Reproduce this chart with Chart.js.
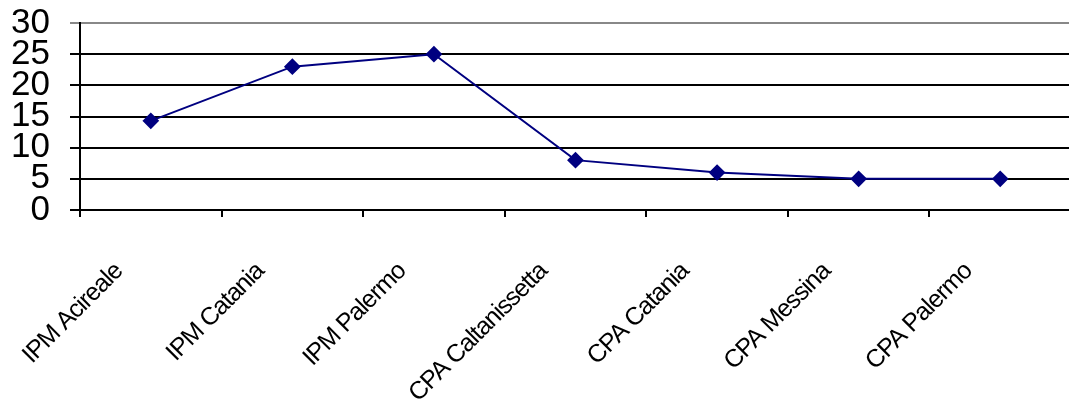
<!DOCTYPE html>
<html>
<head>
<meta charset="utf-8">
<script src="https://cdn.jsdelivr.net/npm/chart.js@4"></script>
<style>
  html, body { margin: 0; padding: 0; background: #fff; overflow: hidden; }
  #wrap { width: 1080px; height: 411px; }
</style>
</head>
<body>
<div id="wrap"><canvas id="myChart" width="1080" height="411"></canvas></div>
<script>
const categories = [
  "IPM Acireale",
  "IPM Catania",
  "IPM Palermo",
  "CPA Caltanissetta",
  "CPA Catania",
  "CPA Messina",
  "CPA Palermo",
];
const values = [14.3, 23, 25, 8, 6, 5, 5];
const yMin = 0;
const yMax = 30;
const yStep = 5;

// tighter letters for the slanted category names, like the original
function tightLabels(s) {
  if (s._tight) return;
  s._tight = true;
  const orig = s.drawLabels;
  s.drawLabels = function (area) {
    const c = this.ctx;
    c.save();
    c.letterSpacing = "-1px";
    orig.call(this, area);
    c.restore();
  };
}

const chart = new Chart(document.getElementById("myChart"), {
  type: "line",
  data: {
    labels: categories,
    datasets: [
      {
        data: values,
        borderColor: "#000080",
        backgroundColor: "#000080",
        borderWidth: 2,
        pointStyle: "rectRot",
        pointRadius: 7,
        pointHoverRadius: 7,
        tension: 0,
        fill: false,
      },
    ],
  },
  options: {
    responsive: false,
    animation: false,
    layout: { padding: { top: 23, right: 3, left: 0, bottom: 0 } },
    plugins: {
      legend: { display: false },
      tooltip: { enabled: false },
    },
    scales: {
      x: {
        offset: true,
        grid: {
          offset: true,
          drawOnChartArea: false,
          color: "#000",
          lineWidth: 2,
          tickLength: 7,
        },
        border: { color: "#000", width: 2 },
        ticks: {
          color: "#000",
          font: { family: "Liberation Sans, Arial", size: 25 },
          minRotation: 45,
          maxRotation: 45,
          autoSkip: false,
          labelOffset: -32,
          padding: 40,
        },
        afterFit: (s) => { s.height = 201; tightLabels(s); },
      },
      y: {
        min: yMin,
        max: yMax,
        grid: {
          color: (ctx) => (ctx.tick && ctx.tick.value === yMax ? "#888" : "#000"),
          lineWidth: 2,
          tickLength: 10,
        },
        border: { color: "#000", width: 2 },
        ticks: {
          stepSize: yStep,
          autoSkip: false,
          color: "#000",
          padding: 20,
          font: { family: "Liberation Sans, Arial", size: 35, lineHeight: 1 },
        },
        afterFit: (s) => {
          s.width = 80;
          s.paddingTop = 0;
          s.paddingBottom = 0;
        },
      },
    },
  },
});
</script>
</body>
</html>
